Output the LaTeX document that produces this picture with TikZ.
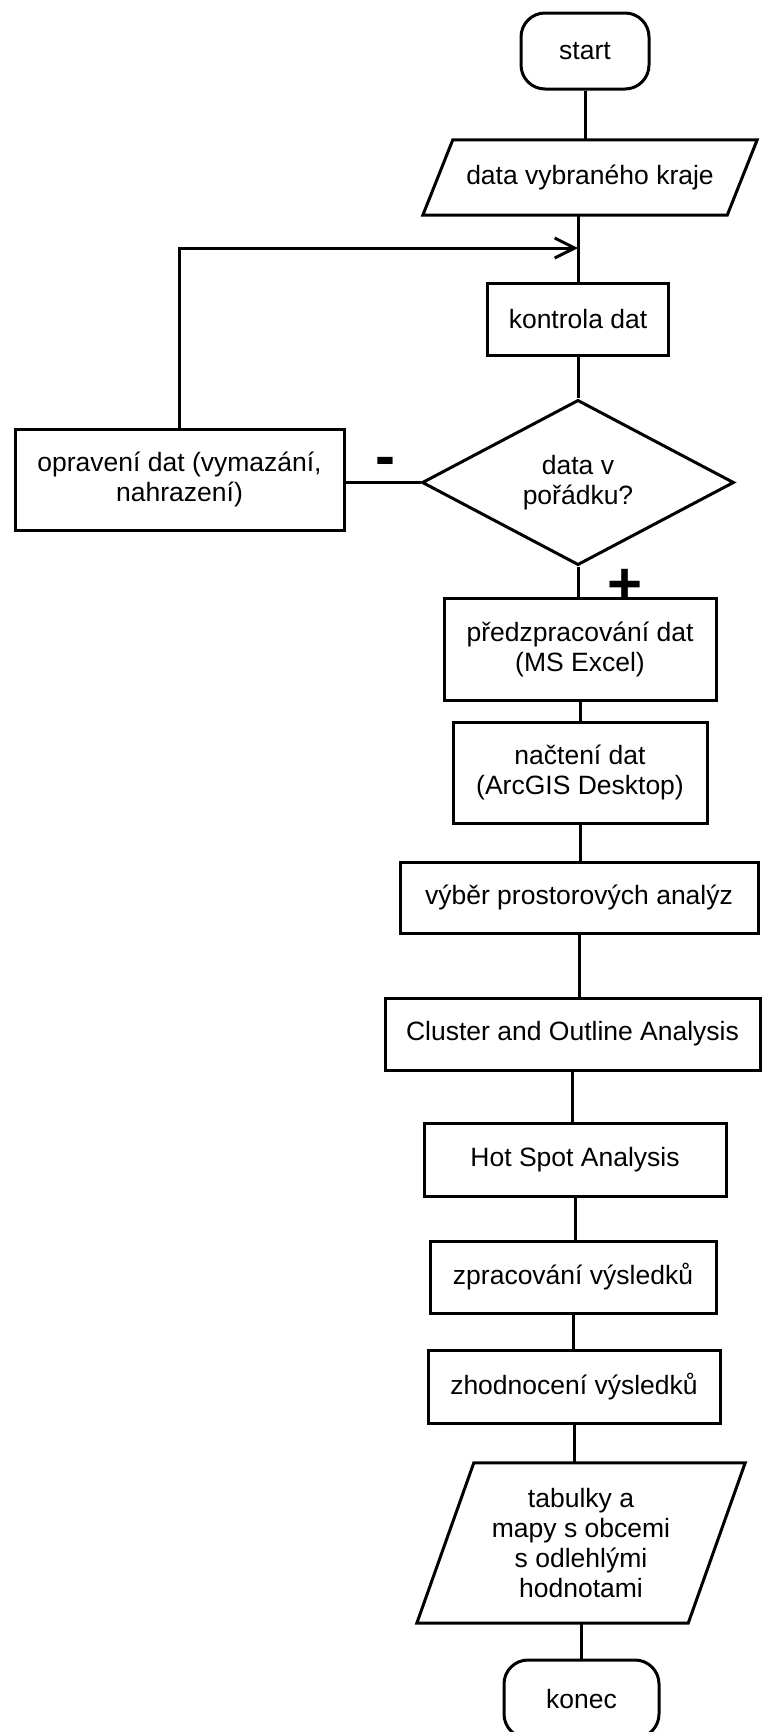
\documentclass[tikz,border=0pt]{standalone}
\usepackage{fontspec}
\setmainfont{Liberation Sans}
\usetikzlibrary{shapes.geometric, arrows.meta}
\begin{document}
\begin{tikzpicture}[x=1pt, y=-1pt,
  every node/.style={font=\fontsize{26.5}{30}\selectfont, align=center, inner sep=0pt},
  conn/.style={line width=3pt},
  procbox/.style={draw, line width=3pt, rectangle},
  termbox/.style={draw, line width=3pt, rectangle, rounded corners=24pt},
  iobox/.style={rectangle},
  decbox/.style={draw, line width=3pt, diamond},
  sign/.style={font=\bfseries\fontsize{60}{60}\selectfont, anchor=base}
]
\useasboundingbox[fill=white] (0,0) rectangle (762,1732);

% nodes
\node[termbox, minimum width=128pt, minimum height=76pt] (start) at (585,51) {start};
\node[iobox, minimum width=304pt, minimum height=75pt] (data) at (590,177.5) {data vybraného kraje};
\node[procbox, minimum width=181pt, minimum height=72pt] (kontrola) at (578,319) {kontrola dat};
\node[decbox, minimum width=312pt, minimum height=161pt] (dec) at (578,482.5) {data v\\pořádku?};
\node[procbox, minimum width=329pt, minimum height=101pt] (oprav) at (179.5,479.5) {opravení dat (vymazání,\\nahrazení)};
\node[procbox, minimum width=272pt, minimum height=102pt] (pred) at (580,649) {předzpracování dat\\(MS Excel)};
\node[procbox, minimum width=254pt, minimum height=101pt] (nacteni) at (580,772.5) {načtení dat\\(ArcGIS Desktop)};
\node[procbox, minimum width=358pt, minimum height=71pt] (vyber) at (579,897.5) {výběr prostorových analýz};
\node[procbox, minimum width=375pt, minimum height=72pt] (cluster) at (572.5,1034) {Cluster and Outline Analysis};
\node[procbox, minimum width=302pt, minimum height=73pt] (hot) at (575,1159.5) {Hot Spot Analysis};
\node[procbox, minimum width=286pt, minimum height=72pt] (zprac) at (573,1277) {zpracování výsledků};
\node[procbox, minimum width=292pt, minimum height=73pt] (zhod) at (574,1386.5) {zhodnocení výsledků};
\node[iobox, minimum width=271pt, minimum height=160pt] (tab) at (581,1543) {tabulky a\\mapy s obcemi\\s odlehlými\\hodnotami};
\node[termbox, minimum width=155pt, minimum height=78pt] (konec) at (581.5,1699) {konec};

% parallelogram outlines
\draw[conn] ([xshift=15pt]data.north west) -- ([xshift=15pt]data.north east)
  -- ([xshift=-15pt]data.south east) -- ([xshift=-15pt]data.south west) -- cycle;
\draw[conn] ([xshift=28.5pt]tab.north west) -- ([xshift=28.5pt]tab.north east)
  -- ([xshift=-28.5pt]tab.south east) -- ([xshift=-28.5pt]tab.south west) -- cycle;

% signs
\node[sign] (minus) at (385,476) {-};
\node[sign] (plus) at (625,604) {+};

% connectors
\coordinate (jy) at (0,248);
\coordinate (join) at (kontrola.north |- jy);
\draw[conn] (start.south) -- (start.south |- data.north);
\draw[conn] (kontrola.north |- data.south) -- (kontrola.north);
\draw[conn, -{Straight Barb[length=20pt, width=20pt]}] (oprav.north) |- (join);
\draw[conn] (kontrola.south) -- (dec.north);
\draw[conn] (dec.west) -- (dec.west -| oprav.east);
\draw[conn] (dec.south) -- (dec.south |- pred.north);
\draw[conn] (pred.south) -- (pred.south |- nacteni.north);
\draw[conn] (nacteni.south) -- (nacteni.south |- vyber.north);
\draw[conn] (vyber.south) -- (vyber.south |- cluster.north);
\draw[conn] (cluster.south) -- (cluster.south |- hot.north);
\draw[conn] (hot.south) -- (hot.south |- zprac.north);
\draw[conn] (zprac.south) -- (zprac.south |- zhod.north);
\draw[conn] (zhod.south) -- (zhod.south |- tab.north);
\draw[conn] (tab.south) -- (tab.south |- konec.north);
\end{tikzpicture}
\end{document}
